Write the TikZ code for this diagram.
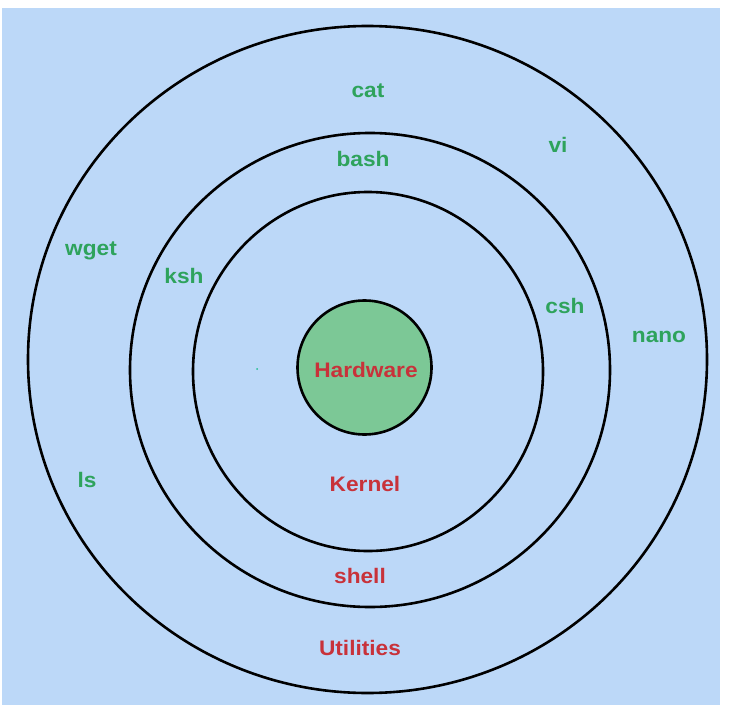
\documentclass[tikz,border=0pt]{standalone}
\usepackage{fontspec}
\setmainfont{Liberation Sans}
\definecolor{bgblue}{HTML}{BCD8F8}
\definecolor{hwgreen}{HTML}{7CC896}
\definecolor{txtgreen}{HTML}{2EA35C}
\definecolor{txtred}{HTML}{C8323A}
\begin{document}
\begin{tikzpicture}[x=1pt,y=-1pt,
  ring/.style={draw=black,line width=2.6pt},
  lbl/.style={anchor=base,inner sep=0pt,font=\fontsize{21}{21}\selectfont\bfseries,xscale=1.08},
  gl/.style={lbl,text=txtgreen},
  rl/.style={lbl,text=txtred}]
\useasboundingbox (0,0) rectangle (730,714);
\fill[white] (0,0) rectangle (730,714);
\fill[bgblue] (2,8) rectangle (720,705);
% rings
\draw[ring] (367.5,359.5) ellipse [x radius=339.5, y radius=333.5];
\draw[ring] (370,370) ellipse [x radius=240, y radius=237];
\draw[ring] (368,371.5) ellipse [x radius=175, y radius=179.5];
\node[ring,fill=hwgreen,circle,minimum size=134pt,inner sep=0pt] (hw) at (364.5,367.5) {};
\fill[txtgreen!70!cyan] (257,369) circle (1pt);
% labels
\node[rl] (hwl) at (366,377) {Hardware};
\node[rl] (kernel) at (365,491) {Kernel};
\node[rl] (shell) at (360,583) {shell};
\node[rl] (util) at (360,655) {Utilities};
\node[gl] (cat) at (368,98) {cat};
\node[gl] (bash) at (363,167) {bash};
\node[gl] (vi) at (558,153) {vi};
\node[gl] (wget) at (91,255) {wget};
\node[gl] (ksh) at (184,283) {ksh};
\node[gl] (csh) at (565,313) {csh};
\node[gl] (nano) at (659,342) {nano};
\node[gl] (ls) at (87,487) {ls};
\end{tikzpicture}
\end{document}
